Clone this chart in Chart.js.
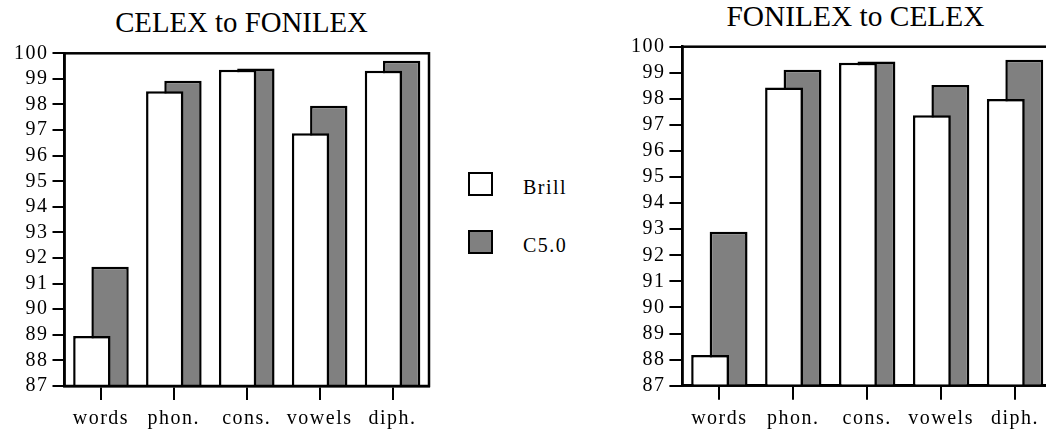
<!DOCTYPE html>
<html>
<head>
<meta charset="utf-8">
<script src="https://cdn.jsdelivr.net/npm/chart.js@4/dist/chart.umd.min.js"></script>
<style>
  body { margin: 0; background: #fff; overflow: hidden; }
  #wrap { position: relative; width: 1046px; height: 434px; overflow: hidden; }
  canvas { position: absolute; top: 0; }
  .title { position: absolute; text-align: center; font-family: "Liberation Serif", serif; color: #000; white-space: nowrap; }
  .key { position: absolute; font-family: "Liberation Serif", serif; font-size: 20px; line-height: 20px; letter-spacing: 1.5px; color: #000; }
  .box { position: absolute; width: 21px; height: 20px; border: 2.5px solid #000; }
</style>
</head>
<body>
<div id="wrap">
  <div class="title" style="left:0;width:483px;top:8px;font-size:28.8px;line-height:28px">CELEX to FONILEX</div>
  <canvas id="leftChart" width="440" height="434" style="left:0"></canvas>
  <div class="title" style="left:655px;width:401px;top:2px;font-size:29.4px;line-height:29px">FONILEX to CELEX</div>
  <canvas id="rightChart" width="470" height="434" style="left:600px"></canvas>
  <div id="legend"></div>
</div>
<script>
const categories = ['words', 'phon.', 'cons.', 'vowels', 'diph.'];
const seriesNames = ['Brill', 'C5.0'];
const seriesColors = ['#ffffff', '#808080'];

// CELEX to FONILEX
const celexBrill = [88.95, 98.52, 99.36, 96.88, 99.32];
const celexC50 = [91.66, 98.93, 99.41, 97.95, 99.71];

// FONILEX to CELEX
const fonilexBrill = [88.18, 98.44, 99.38, 97.37, 97.99];
const fonilexC50 = [92.9, 99.12, 99.43, 98.53, 99.5];

const yMin = 87;
const yMax = 100;

Chart.defaults.font.family = '"Liberation Serif", serif';
Chart.defaults.color = '#000';

// old mac style spaced digits
const spacing = {
  id: 'spacing',
  beforeDraw(chart) {
    chart.ctx.letterSpacing = '1.5px';
  }
};

// box round the plot area
const frame = {
  id: 'frame',
  afterDraw(chart) {
    const a = chart.chartArea;
    const ctx = chart.ctx;
    ctx.save();
    ctx.strokeStyle = '#000';
    ctx.lineWidth = 2.5;
    ctx.strokeRect(a.left, a.top, a.right - a.left, a.bottom - a.top);
    ctx.restore();
  }
};

function makeChart(id, brill, c50, o) {
  let ctx = document.getElementById(id).getContext('2d');
  return new Chart(ctx, {
    type: 'bar',
    data: {
      labels: categories,
      datasets: [brill, c50].map((vals, i) => ({
        label: seriesNames[i],
        data: vals,
        backgroundColor: seriesColors[i],
        borderColor: '#000',
        borderWidth: 2.5,
        categoryPercentage: 0.5,
        barPercentage: 2.05
      }))
    },
    options: {
      responsive: false,
      animation: false,
      layout: { padding: { top: o.top, right: o.right, left: 0, bottom: 0 } },
      plugins: {
        legend: { display: false },
        title: { display: false },
        tooltip: { enabled: false }
      },
      scales: {
        x: {
          grid: { offset: false, drawOnChartArea: false, tickLength: 14, color: '#000', lineWidth: 2 },
          border: { color: '#000', width: 2.5 },
          ticks: { color: '#000', padding: 7, font: { size: 20 } },
          afterFit(s) { s.height = o.xh; }
        },
        y: {
          min: yMin,
          max: yMax,
          grid: { drawOnChartArea: false, tickLength: o.tick, color: '#000', lineWidth: 2 },
          border: { color: '#000', width: 2.5 },
          ticks: { stepSize: 1, autoSkip: false, color: '#000', padding: 4, font: { size: 20 } },
          afterFit(s) { s.width = o.yw; }
        }
      }
    },
    plugins: [spacing, frame]
  });
}

makeChart('leftChart', celexBrill, celexC50, { top: 53.3, right: 11, xh: 48, yw: 64.5, tick: 12 });
makeChart('rightChart', fonilexBrill, fonilexC50, { top: 46.7, right: 18, xh: 48.3, yw: 82.4, tick: 13 });

// legend between the two charts
let legend = document.getElementById('legend');
let boxTops = [171.7, 230];
seriesNames.forEach((name, i) => {
  let box = document.createElement('div');
  box.className = 'box';
  box.style.left = '467.7px';
  box.style.top = boxTops[i] + 'px';
  box.style.background = seriesColors[i];
  legend.appendChild(box);
  let txt = document.createElement('div');
  txt.className = 'key';
  txt.style.left = '523px';
  txt.style.top = (boxTops[i] + 5) + 'px';
  txt.textContent = name;
  legend.appendChild(txt);
});
</script>
</body>
</html>
